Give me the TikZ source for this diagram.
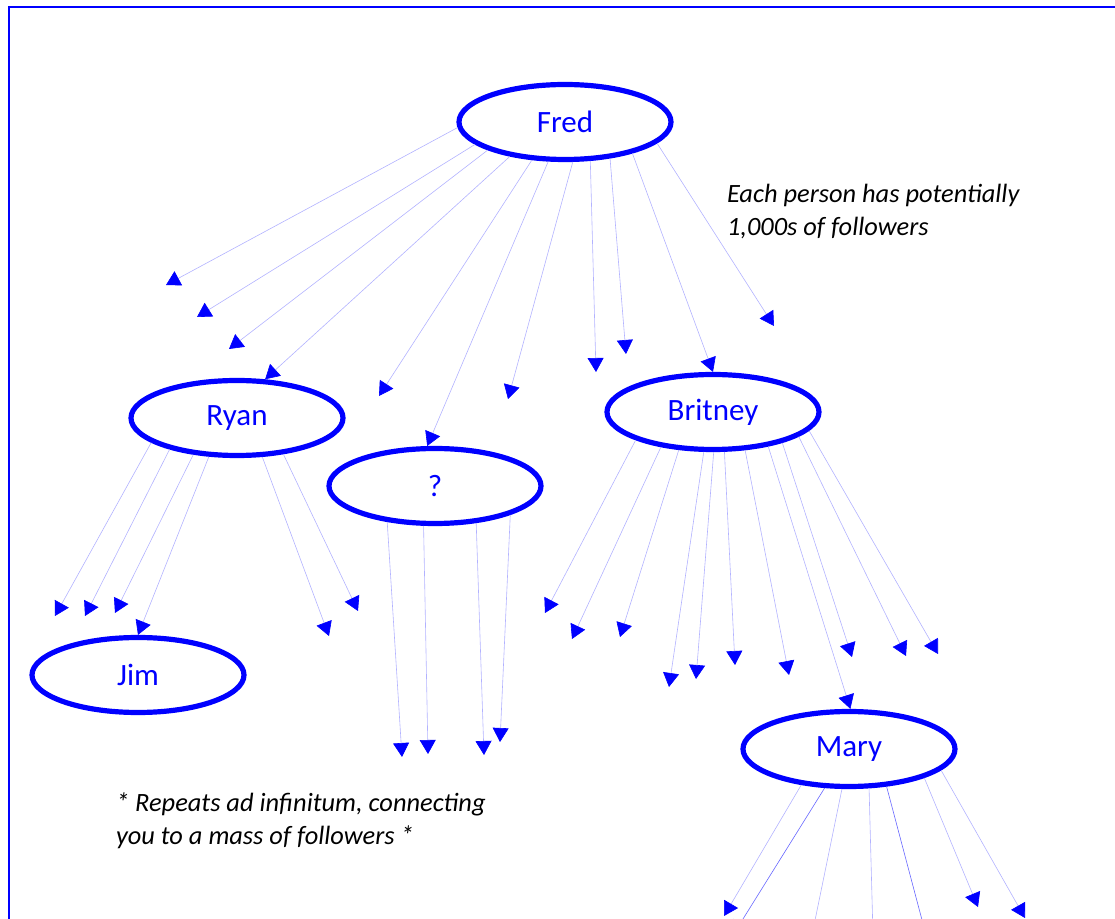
\documentclass[tikz,border=0pt]{standalone}
\usepackage{fontspec}
\setmainfont{Carlito}
\usetikzlibrary{arrows.meta, shapes.geometric}

\begin{document}
\begin{tikzpicture}[
  x=0.5pt, y=-0.5pt,
  person/.style = {draw=blue, ellipse, line width=2.6pt, minimum width=106pt,
    minimum height=37.5pt, text=blue, font=\fontsize{15.5}{18}\selectfont},
  follow/.style = {draw=blue!30, line width=0.3pt,
    -{Triangle[color=blue, length=7pt, width=8pt]}},
  note/.style = {align=left, anchor=west, font=\fontsize{13.2}{16.5}\selectfont\itshape}
]

\clip (0,0) rectangle (1115,919);
\draw[blue, line width=1pt] (8.5,7.5) rectangle (1140,940); % frame

% people
\node[person] (fred) at (565,122) {Fred};
\node[person] (ryan) at (237,418) {Ryan};
\node[person] (q) at (435,486) {?};
\node[person] (britney) at (713,412) {Britney};
\node[person] (jim) at (138,675) {Jim};
\node[person] (mary) at (849,749) {Mary};

\node[note] (each) at (720,212) {Each person has potentially\\1,000s of followers};
\node[note] (repeat) at (109,821) {* Repeats ad infinitum, connecting\\you to a mass of followers *};

% loose ends
\coordinate (f1) at (166,285); \coordinate (f2) at (197,317);
\coordinate (f3) at (229,349); \coordinate (f5) at (379,396);
\coordinate (f7) at (508,399); \coordinate (f8) at (596,372);
\coordinate (f9) at (626,354); \coordinate (f11) at (774,326);
\coordinate (r1) at (55,616); \coordinate (r2) at (85,616);
\coordinate (r3) at (115,613); \coordinate (r5) at (329,636);
\coordinate (r6) at (358,611);
\coordinate (q1) at (402,757); \coordinate (q2) at (428,754);
\coordinate (q3) at (484,755); \coordinate (q4) at (500,742);
\coordinate (b1) at (545,613); \coordinate (b2) at (572,639);
\coordinate (b3) at (620,637); \coordinate (b4) at (669,687);
\coordinate (b5) at (696,679); \coordinate (b6) at (735,665);
\coordinate (b7) at (789,675); \coordinate (b9) at (852,657);
\coordinate (b10) at (906,656); \coordinate (b11) at (938,654);
\coordinate (m1) at (724,916); \coordinate (m2) at (733,935);
\coordinate (m3) at (812,935); \coordinate (m4) at (873,935);
\coordinate (m5) at (926,935); \coordinate (m6) at (978,907);
\coordinate (m7) at (1025,918);

% Fred
\draw[follow] (fred.183) -- (f1);
\draw[follow] (fred.194.5) -- (f2);
\draw[follow] (fred.200.6) -- (f3);
\draw[follow] (fred.212) -- (ryan.54);
\draw[follow] (fred.229) -- (f5);
\draw[follow] (fred.247.5) -- (q.101);
\draw[follow] (fred.281) -- (f7);
\draw[follow] (fred.303) -- (f8);
\draw[follow] (fred.321) -- (f9);
\draw[follow] (fred.335) -- (britney.north);
\draw[follow] (fred.347.5) -- (f11);

% Ryan
\draw[follow] (ryan.196) -- (r1);
\draw[follow] (ryan.205) -- (r2);
\draw[follow] (ryan.220.6) -- (r3);
\draw[follow] (ryan.234.5) -- (jim.north);
\draw[follow] (ryan.303.7) -- (r5);
\draw[follow] (ryan.322.6) -- (r6);

% ?
\draw[follow] (q.217) -- (q1);
\draw[follow] (q.254.7) -- (q2);
\draw[follow] (q.318.2) -- (q3);
\draw[follow] (q.339) -- (q4);

% Britney
\draw[follow] (britney.200.3) -- (b1);
\draw[follow] (britney.214.2) -- (b2);
\draw[follow] (britney.228.5) -- (b3);
\draw[follow] (britney.257) -- (b4);
\draw[follow] (britney.271) -- (b5);
\draw[follow] (britney.286) -- (b6);
\draw[follow] (britney.310.5) -- (b7);
\draw[follow] (britney.328.5) -- (mary.88);
\draw[follow] (britney.336.8) -- (b9);
\draw[follow] (britney.344.7) -- (b10);
\draw[follow] (britney.349.4) -- (b11);

% Mary
\draw[follow] (mary.217.5) -- (m1);
\draw[follow, draw=blue!60] (mary.238.6) -- (m2);
\draw[follow] (mary.260.3) -- (m3);
\draw[follow] (mary.297) -- (m4);
\draw[follow, draw=blue!60] (mary.315) -- (m5);
\draw[follow] (mary.339.8) -- (m6);
\draw[follow] (mary.347.4) -- (m7);

\end{tikzpicture}
\end{document}
